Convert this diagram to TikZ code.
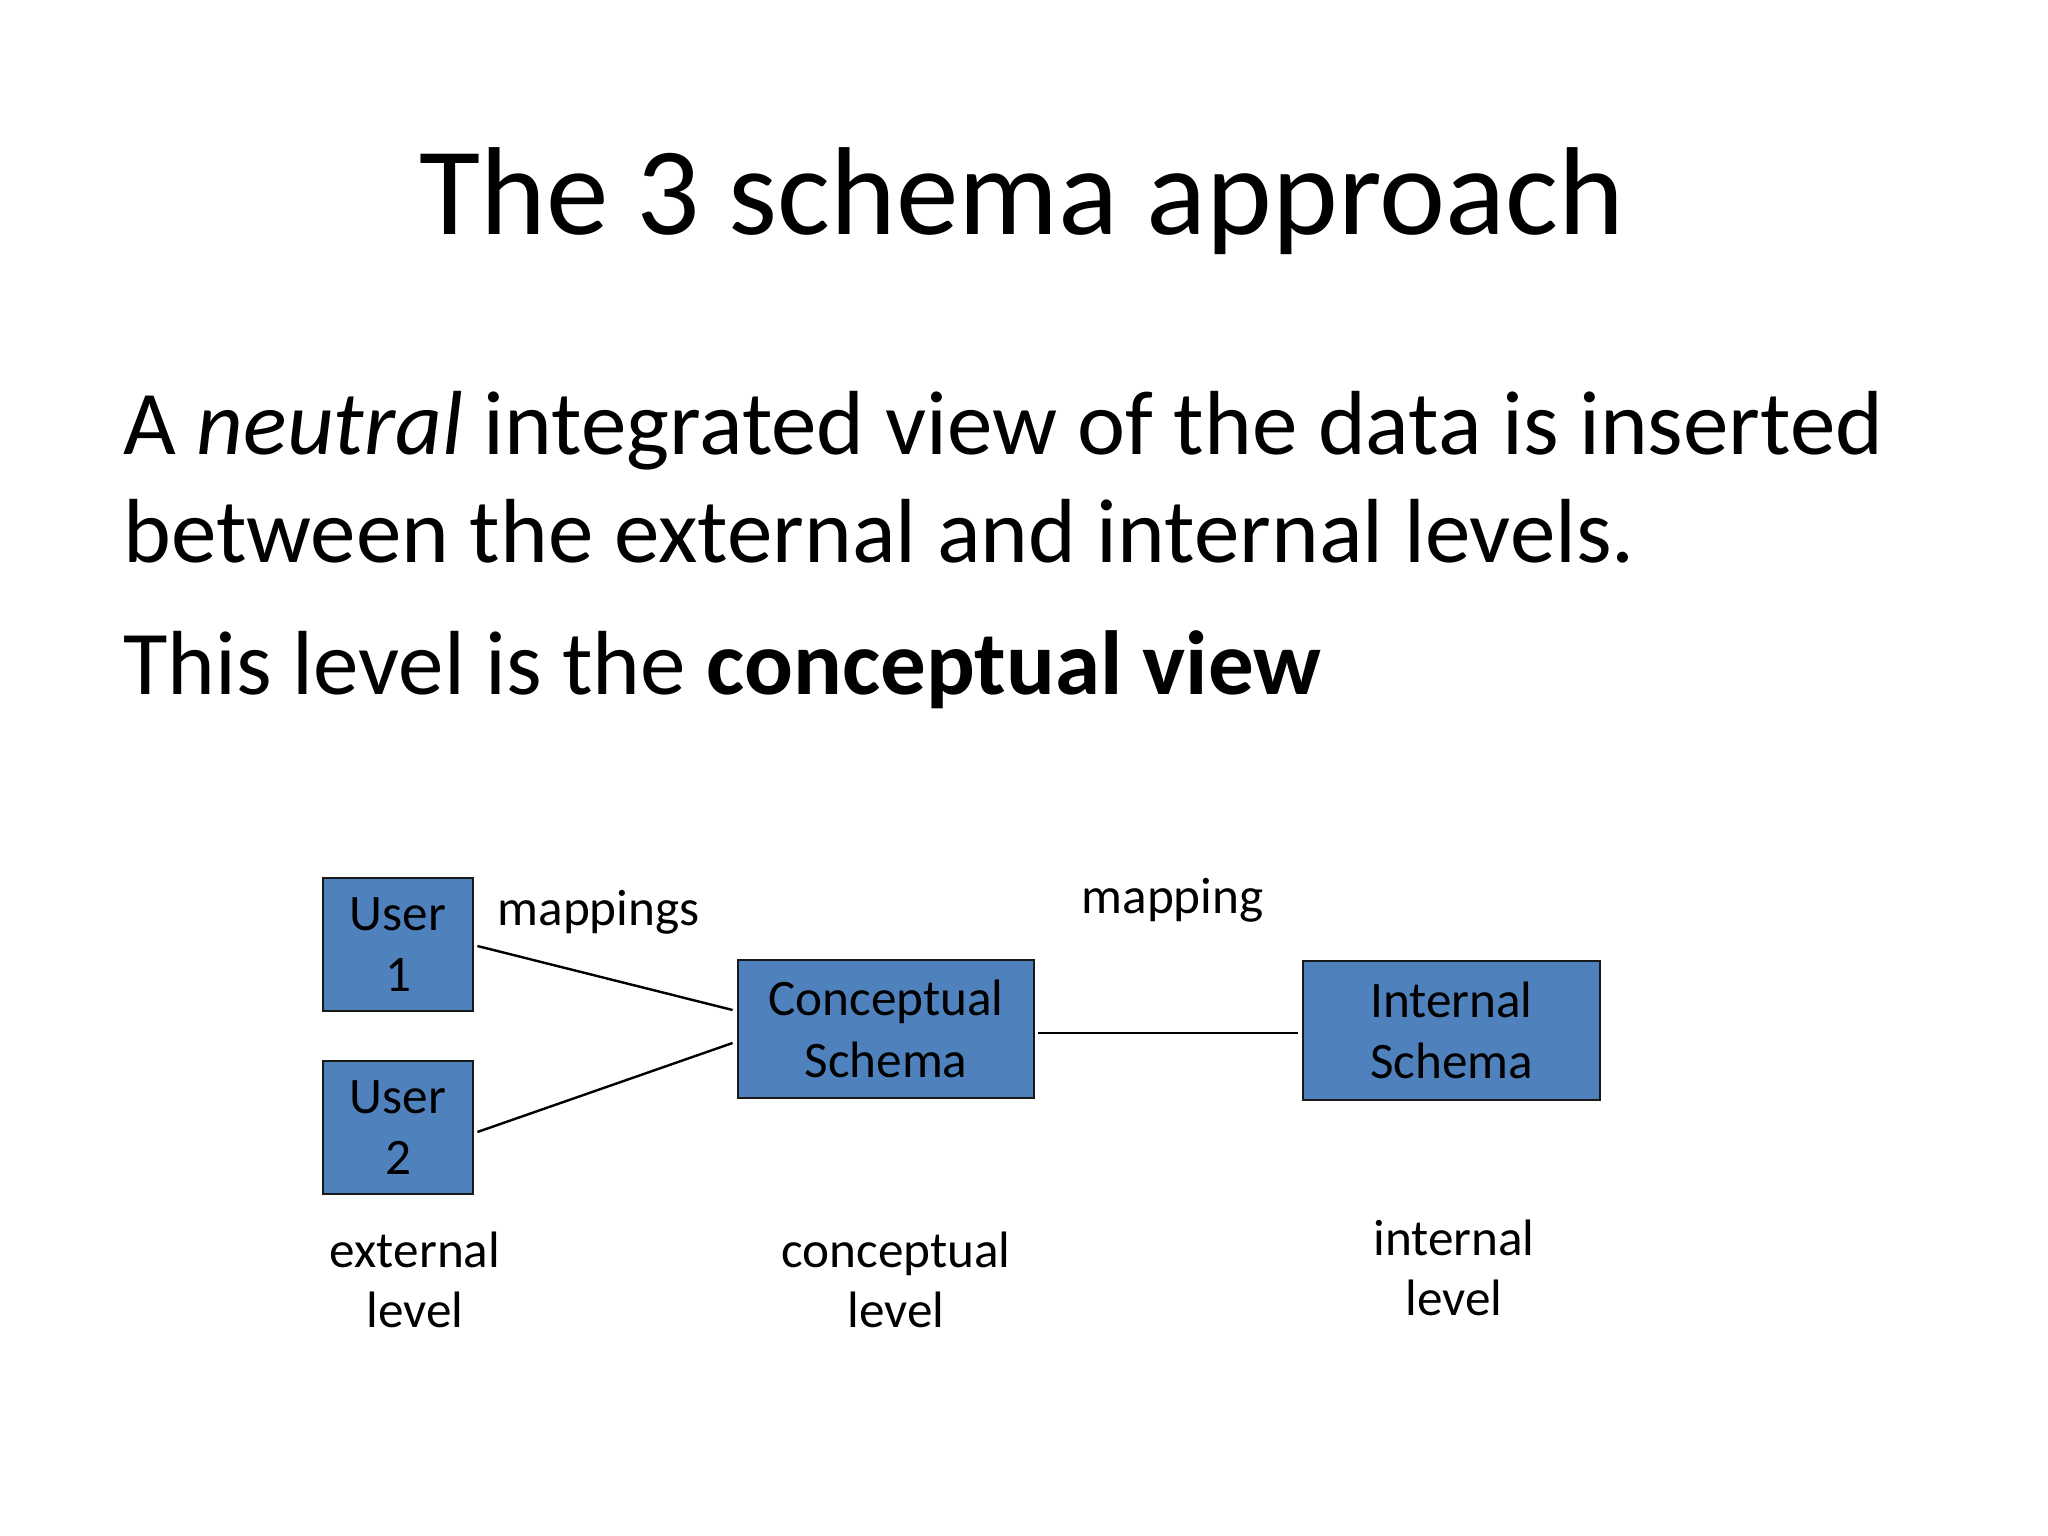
\documentclass[tikz,border=0pt]{standalone}
\usepackage{fontspec}
\setmainfont{Carlito}
\usetikzlibrary{calc}
\newdimen\pxu
\pxu=0.3515625pt
\definecolor{boxblue}{HTML}{4F81BD}
\begin{document}
\begin{tikzpicture}[x=0.3515625pt,y=-0.3515625pt,
  schemabox/.style={draw=black!90,line width=1pt,fill=boxblue,align=center,
    font=\fontsize{18}{21.6}\selectfont,inner sep=0pt},
  lbl/.style={align=center,font=\fontsize{18}{21.6}\selectfont,inner sep=0pt},
  conn/.style={draw=black,line width=0.85pt}]
\useasboundingbox (0,0) rectangle (2048,1536);
% title
\node[anchor=base,inner sep=0pt,font=\fontsize{44}{52.8}\selectfont] (title) at (1022,235) {The 3 schema approach};
% body
\node[anchor=base west,inner sep=0pt,font=\fontsize{32}{38.4}\selectfont] (l1) at (123,455) {A \textit{neutral} integrated view of the data is inserted};
\node[anchor=base west,inner sep=0pt,font=\fontsize{32}{38.4}\selectfont] (l2) at (123,562) {between the external and internal levels.};
\node[anchor=base west,inner sep=0pt,font=\fontsize{32}{38.4}\selectfont] (l3) at (123,695) {This level is the \textbf{conceptual view}};
% boxes
\node[schemabox,minimum width=150\pxu,minimum height=133\pxu] (u1) at (398,944.5) {\raisebox{-0.6pt}{User}\\\raisebox{-0.6pt}{1}};
\node[schemabox,minimum width=150\pxu,minimum height=133\pxu] (u2) at (398,1127.5) {\raisebox{-0.6pt}{User}\\\raisebox{-0.6pt}{2}};
\node[schemabox,minimum width=296\pxu,minimum height=138\pxu] (c) at (886,1029) {Conceptual\\Schema};
\node[schemabox,minimum width=297\pxu,minimum height=139\pxu] (i) at (1451.5,1030.5) {Internal\\Schema};
% connectors
\coordinate (u1e) at ($(u1.east)+(3,1.5)$);
\coordinate (c1) at ($(c.west)+(-4,-19)$);
\coordinate (u2e) at ($(u2.east)+(3,4.5)$);
\coordinate (c2) at ($(c.west)+(-4,14)$);
\coordinate (ce) at ($(c.east)+(3,4)$);
\coordinate (iw) at ($(i.west)+(-4,2.5)$);
\draw[conn] (u1e) -- (c1);
\draw[conn] (u2e) -- (c2);
\draw[conn] (ce) -- (iw |- ce);
% labels
\node[lbl,anchor=base west] (m1) at (497,925) {mappings};
\node[lbl,anchor=base west] (m2) at (1081,913) {mapping};
\node[lbl,anchor=base] (ext1) at (415,1267) {external};
\node[lbl,anchor=base] (ext2) at (415,1327) {level};
\node[lbl,anchor=base] (con1) at (896,1267) {conceptual};
\node[lbl,anchor=base] (con2) at (896,1327) {level};
\node[lbl,anchor=base] (int1) at (1454,1255) {internal};
\node[lbl,anchor=base] (int2) at (1454,1315) {level};
\end{tikzpicture}
\end{document}
